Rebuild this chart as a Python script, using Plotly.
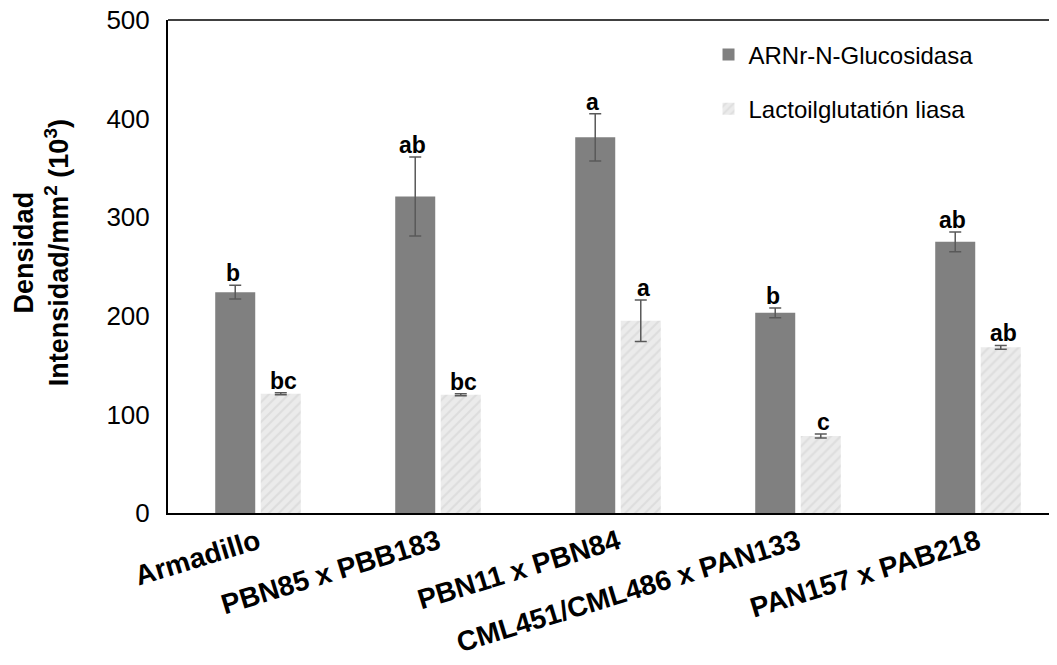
import plotly.graph_objects as go

categories = ["Armadillo", "PBN85 x PBB183", "PBN11 x PBN84", "CML451/CML486 x PAN133", "PAN157 x PAB218"]
arn_values = [224, 321, 381, 203, 275]
arn_errors = [7, 40, 24, 5, 10]
arn_letters = ["b", "ab", "a", "b", "ab"]
lac_values = [121, 120, 195, 78, 168]
lac_errors = [1, 1, 21, 2, 2]
lac_letters = ["bc", "bc", "a", "c", "ab"]
series_names = ["ARNr-N-Glucosidasa", "Lactoilglutatión liasa"]
y_ticks = [0, 100, 200, 300, 400, 500]

FONT = "Liberation Sans, Arial, sans-serif"

fig = go.Figure()
fig.add_trace(go.Bar(
    x=categories, y=arn_values, name=series_names[0],
    marker=dict(color="#808080", line=dict(width=0)),
    error_y=dict(type="data", array=arn_errors, color="#595959", thickness=1.5, width=6),
    legendgroup="g1",
))
fig.add_trace(go.Bar(
    x=categories, y=lac_values, name=series_names[1],
    marker=dict(color="#ebebeb", line=dict(width=0),
                pattern=dict(shape="/", fgcolor="#cfcfcf", bgcolor="#ebebeb", size=7, solidity=0.3)),
    error_y=dict(type="data", array=lac_errors, color="#595959", thickness=1.5, width=6),
    legendgroup="g2",
))

annotations = []
for i, c in enumerate(categories):
    annotations.append(dict(x=c, y=arn_values[i] + arn_errors[i], text="<b>%s</b>" % arn_letters[i],
                            xref="x", yref="y", xshift=-25.5, yshift=-3, yanchor="bottom", showarrow=False,
                            font=dict(family=FONT, size=23, color="black")))
    annotations.append(dict(x=c, y=lac_values[i] + lac_errors[i], text="<b>%s</b>" % lac_letters[i],
                            xref="x", yref="y", xshift=25.5, yshift=-3, yanchor="bottom", showarrow=False,
                            font=dict(family=FONT, size=23, color="black")))

annotations.append(dict(
    text="<b>Densidad<br>Intensidad/mm<sup>2</sup> (10<sup>3</sup>)</b>",
    xref="paper", yref="paper", x=0, xshift=-127, y=0.527, xanchor="center", yanchor="middle",
    textangle=-90, showarrow=False, font=dict(family=FONT, size=27, color="black")))

fig.update_layout(
    width=1049, height=657,
    margin=dict(l=160, r=0, t=12, b=152, autoexpand=False),
    paper_bgcolor="white", plot_bgcolor="white",
    barmode="group", bargap=0.494, bargroupgap=0.121,
    font=dict(family=FONT, color="black"),
    showlegend=True,
    legend=dict(x=0.608, y=0.975, xanchor="left", yanchor="top", bgcolor="rgba(0,0,0,0)",
                font=dict(family=FONT, size=24, color="black"),
                traceorder="grouped", tracegroupgap=20, itemwidth=30),
    annotations=annotations,
    shapes=[dict(type="line", xref="paper", yref="paper", x0=0, x1=1, y0=1, y1=1,
                 line=dict(color="black", width=1.5))],
)
fig.update_xaxes(
    range=[-0.5, 4.5 - 11 / 180], showline=True, linecolor="black", linewidth=2,
    ticks="", tickangle=-17, tickfont=dict(family=FONT, size=28, color="black"),
    tickprefix="<b>", ticksuffix="</b>", showgrid=False, zeroline=False, automargin=False,
    ticklabeloverflow="allow",
)
fig.update_yaxes(
    range=[0, 500], tickmode="array", tickvals=y_ticks, showline=True, linecolor="black", linewidth=2,
    ticks="", tickfont=dict(family=FONT, size=26, color="black"), ticklabelstandoff=11,
    showgrid=False, zeroline=False, automargin=False, ticklabeloverflow="allow",
)

fig.write_html("out.html")
